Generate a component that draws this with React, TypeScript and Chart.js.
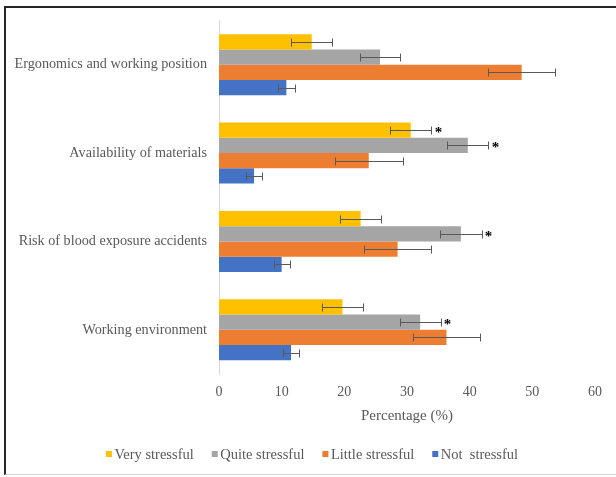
import { useEffect, useRef } from "react";
import { Chart, registerables } from "chart.js";

Chart.register(...registerables);

const categories = [
  "Ergonomics and working position",
  "Availability of materials",
  "Risk of blood exposure accidents",
  "Working environment",
];
const seriesNames = ["Very stressful", "Quite stressful", "Little stressful", "Not  stressful"];
const seriesColors = ["#FFC000", "#A5A5A5", "#ED7D31", "#4472C4"];

// Percentages per category, in the order of `categories`
const veryStressful = [14.8, 30.6, 22.6, 19.7];
const quiteStressful = [25.7, 39.7, 38.6, 32.1];
const littleStressful = [48.3, 23.9, 28.5, 36.3];
const notStressful = [10.75, 5.6, 10.0, 11.5];

// Symmetric error margins
const veryError = [3.3, 3.3, 3.25, 3.2];
const quiteError = [3.2, 3.3, 3.3, 3.25];
const littleError = [5.3, 5.4, 5.3, 5.4];
const notError = [1.4, 1.25, 1.3, 1.3];

// [category index, series index] pairs flagged with an asterisk
const significant: [number, number][] = [
  [1, 0],
  [1, 1],
  [2, 1],
  [3, 1],
];

const axisMin = 0;
const axisMax = 60;
const axisStep = 10;

const TEXT = "#595959";
const FONT = "'Liberation Serif', 'Times New Roman', serif";

const seriesValues = [veryStressful, quiteStressful, littleStressful, notStressful];
const seriesErrors = [veryError, quiteError, littleError, notError];

const errorBarPlugin = {
  id: "errorBars",
  afterDatasetsDraw(chart: any) {
    const { ctx } = chart;
    const xs = chart.scales.x;
    ctx.save();
    ctx.strokeStyle = "#595959";
    ctx.lineWidth = 1;
    chart.data.datasets.forEach((ds: any, i: number) => {
      const meta = chart.getDatasetMeta(i);
      meta.data.forEach((bar: any, j: number) => {
        const v = ds.data[j];
        const e = ds.errors[j];
        const x0 = Math.round(xs.getPixelForValue(v - e)) + 0.5;
        const x1 = Math.round(xs.getPixelForValue(v + e)) + 0.5;
        const y = Math.round(bar.y) + 0.5;
        ctx.beginPath();
        ctx.moveTo(x0, y);
        ctx.lineTo(x1, y);
        ctx.moveTo(x0, y - 4);
        ctx.lineTo(x0, y + 4);
        ctx.moveTo(x1, y - 4);
        ctx.lineTo(x1, y + 4);
        ctx.stroke();
      });
    });
    // significance asterisks just past the error bar
    ctx.fillStyle = "#000000";
    ctx.font = `bold 15px ${FONT}`;
    ctx.textAlign = "center";
    ctx.textBaseline = "middle";
    significant.forEach(([c, s]) => {
      const ds = chart.data.datasets[s];
      const bar = chart.getDatasetMeta(s).data[c];
      const xEnd = xs.getPixelForValue(ds.data[c] + ds.errors[c]);
      ctx.fillText("*", xEnd + 7, bar.y + 3);
    });
    ctx.restore();
  },
};

const legendPlugin = {
  id: "bottomLegend",
  afterDraw(chart: any) {
    const { ctx } = chart;
    ctx.save();
    ctx.font = `14.5px ${FONT}`;
    ctx.textBaseline = "middle";
    ctx.textAlign = "left";
    const box = 6;
    const gap = 2.5;
    const spacing = 18;
    const items = chart.data.datasets.map((ds: any) => ({
      label: ds.label,
      color: ds.backgroundColor,
      w: ctx.measureText(ds.label).width,
    }));
    const total =
      items.reduce((a: number, it: any) => a + box + gap + it.w, 0) + spacing * (items.length - 1);
    let x = 312 - total / 2;
    const y = 454;
    items.forEach((it: any) => {
      ctx.fillStyle = it.color;
      ctx.fillRect(x, y - box / 2, box, box);
      x += box + gap;
      ctx.fillStyle = TEXT;
      ctx.fillText(it.label, x, y + 1);
      x += it.w + spacing;
    });
    ctx.restore();
  },
};

export default function App() {
  const canvasRef = useRef<HTMLCanvasElement | null>(null);

  useEffect(() => {
    if (!canvasRef.current) return;
    const chart = new Chart(canvasRef.current, {
      type: "bar",
      data: {
        labels: categories,
        datasets: seriesNames.map((name, i) => ({
          label: name,
          data: seriesValues[i],
          errors: seriesErrors[i],
          backgroundColor: seriesColors[i],
          borderWidth: 0,
          barPercentage: 1,
          categoryPercentage: 0.69,
        })) as any,
      },
      options: {
        indexAxis: "y",
        animation: false,
        responsive: false,
        layout: { padding: { left: 10, right: 21, top: 20, bottom: 43 } },
        plugins: {
          legend: { display: false },
          tooltip: { enabled: false },
        },
        scales: {
          x: {
            min: axisMin,
            max: axisMax,
            grid: { display: false, drawTicks: false },
            border: { display: false },
            ticks: {
              stepSize: axisStep,
              padding: 10,
              color: TEXT,
              font: { family: FONT, size: 14 },
            },
            title: {
              display: true,
              text: "Percentage (%)",
              color: TEXT,
              font: { family: FONT, size: 15 },
              padding: { top: 0, bottom: 9 },
            },
            afterFit(scale: any) {
              scale.height = 60;
            },
          },
          y: {
            grid: { display: false, drawTicks: false },
            border: { display: true, color: "#d9d9d9", width: 1 },
            ticks: {
              padding: 12,
              color: TEXT,
              font: { family: FONT, size: 14.2 },
            },
            afterFit(scale: any) {
              scale.width = 209;
            },
          },
        },
      },
      plugins: [errorBarPlugin, legendPlugin],
    });
    return () => chart.destroy();
  }, []);

  return (
    <div style={{ position: "absolute", left: 0, top: 0, width: 616, height: 477, background: "#fff", overflow: "hidden" }}>
      <div
        style={{
          position: "absolute",
          left: 4,
          top: 6,
          width: 640,
          height: 466,
          borderTop: "2px solid #262626",
          borderLeft: "2px solid #262626",
          borderBottom: "1px solid #d4d4d4",
        }}
      />
      <canvas ref={canvasRef} width={616} height={477} style={{ position: "absolute", left: 0, top: 0, display: "block" }} />
    </div>
  );
}
